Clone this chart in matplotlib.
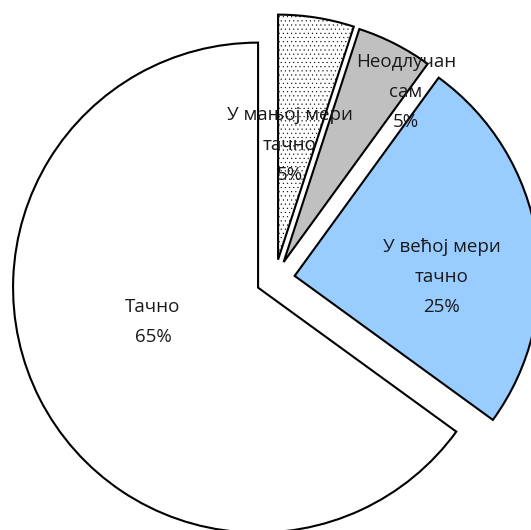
import matplotlib
matplotlib.use("Agg")
import matplotlib.pyplot as plt

plt.rcParams['font.family'] = ['Open Sans', 'DejaVu Sans']
plt.rcParams['hatch.color'] = '#9a9a9a'
plt.rcParams['hatch.linewidth'] = 0.3

# Одговори, редом у смеру казаљке на сату почевши од 12 сати
kategorije = ['У мањој мери\nтачно', 'Неодлучан\nсам', 'У већој мери\nтачно', 'Тачно']
procenti = [5, 5, 25, 65]

boje = ['white', '#c0c0c0', '#99ccff', 'white']
srafure = ['....', None, None, None]
# помак исечака од средишта, у пикселима (пита је цртана у пикселима)
izvuceno = [19.6, 19, 19.9, 19]

# положај натписа (у пикселима, почетак доле лево)
natpisi_xy = [(290, 385), (406, 438), (442, 253), (153, 208)]

W, H = 531, 530
fig = plt.figure(figsize=(W / 100, H / 100), dpi=100)
ax = fig.add_axes([0, 0, 1, 1])

wedges, _ = ax.pie(procenti, radius=245, center=(275, H - 279),
                   startangle=90, counterclock=False,
                   colors=boje, explode=izvuceno,
                   wedgeprops=dict(edgecolor='black', linewidth=1.5))
for w, h in zip(wedges, srafure):
    if h:
        w.set_hatch(h)

for naziv, p, (x, y) in zip(kategorije, procenti, natpisi_xy):
    ax.text(x, y, f'{naziv}\n{p}%', ha='center', va='center',
            fontsize=13.5, linespacing=1.85, color='#1a1a1a')

ax.set_xlim(0, W)
ax.set_ylim(0, H)
ax.set_aspect('equal')
ax.axis('off')

fig.savefig('out.png', dpi=100, facecolor='white')
